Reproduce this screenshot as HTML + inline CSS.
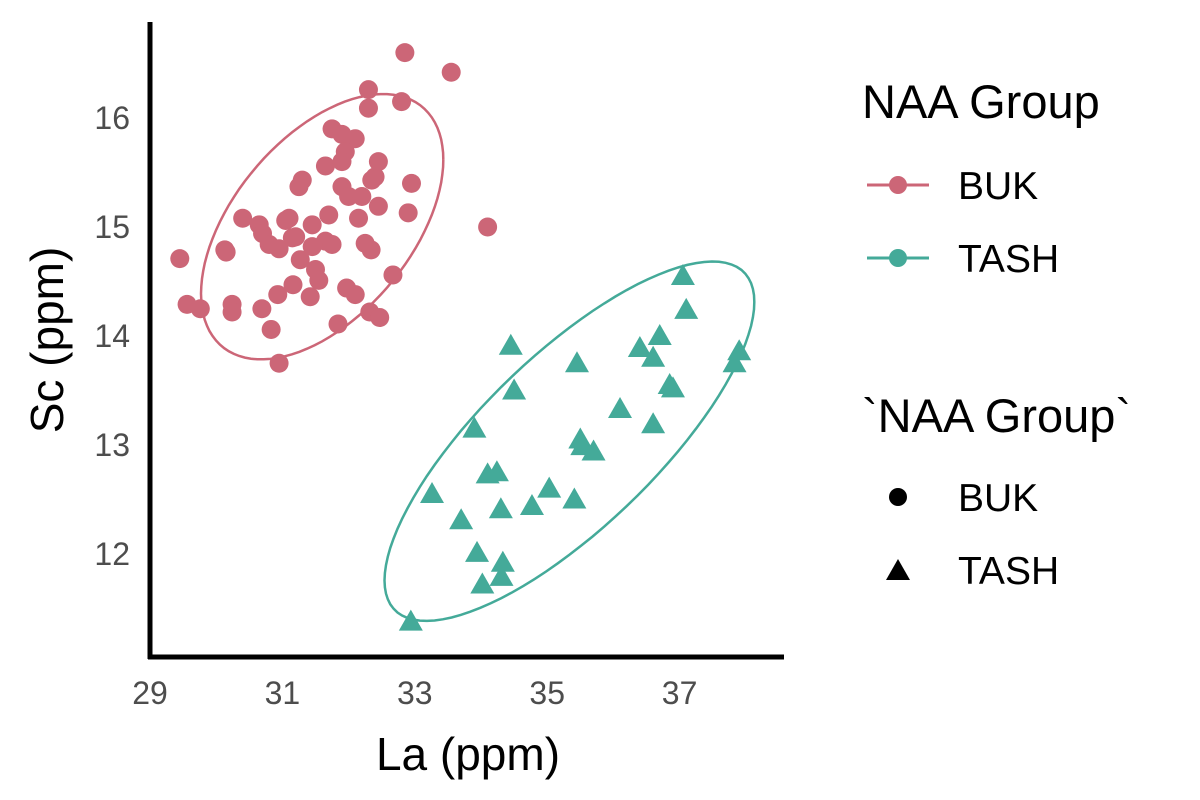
<!DOCTYPE html>
<html><head><meta charset="utf-8"><style>
html,body{margin:0;padding:0;background:#fff;}
svg{display:block;font-family:"Liberation Sans",Arial,sans-serif;}
</style></head><body>
<svg id="chart" width="1200" height="800" viewBox="0 0 1200 800">
<g id="marks"></g>
<line x1="150" y1="22" x2="150" y2="659" stroke="#000" stroke-width="5"/>
<line x1="148" y1="657" x2="784" y2="657" stroke="#000" stroke-width="5"/>
<g id="xticks"></g>
<g id="yticks"></g>
<text x="468" y="770" font-size="46" text-anchor="middle" fill="#000">La (ppm)</text>
<text transform="translate(63,340) rotate(-90)" font-size="46" text-anchor="middle" fill="#000">Sc (ppm)</text>
<g>
<text x="862" y="118" font-size="47" fill="#000">NAA Group</text>
<g>
<line x1="867" y1="185" x2="929" y2="185" stroke="#CC6677" stroke-width="3"/>
<circle cx="898" cy="185" r="9" fill="#CC6677"/>
<text x="958" y="199" font-size="39" fill="#000">BUK</text></g>
<g>
<line x1="867" y1="258" x2="929" y2="258" stroke="#44AA99" stroke-width="3"/>
<circle cx="898" cy="258" r="9" fill="#44AA99"/>
<text x="958" y="272" font-size="39" fill="#000">TASH</text></g>
</g>
<g>
<text x="862" y="432" font-size="47" fill="#000">`NAA Group`</text>
<g>
<circle cx="898" cy="497" r="9" fill="#000"/>
<text x="958" y="511" font-size="39" fill="#000">BUK</text></g>
<g>
<polygon points="898,559 910,580 886,580" fill="#000"/>
<text x="958" y="584" font-size="39" fill="#000">TASH</text></g>
</g>
</svg>
<script>
const xTicks=[29,31,33,35,37];
const yTicks=[12,13,14,15,16];
const bukLa=[32.85,33.55,32.3,32.8,32.3,31.75,31.9,32.1,31.65,31.95,31.9,32.45,32.4,32.35,31.3,31.25,31.9,32.95,32.0,32.2,32.45,32.9,30.4,30.65,31.05,31.1,31.45,31.7,32.15,34.1,30.7,31.2,31.65,32.25,30.8,30.95,31.45,31.75,32.34,29.45,30.15,31.5,31.55,32.67,31.16,30.93,31.97,32.1,29.56,29.76,30.24,30.24,30.69,31.42,32.32,32.47,31.84,30.83,30.95,31.27,30.13,31.15];
const bukSc=[16.6,16.42,16.26,16.15,16.09,15.9,15.85,15.81,15.56,15.69,15.6,15.6,15.46,15.43,15.43,15.37,15.37,15.4,15.28,15.28,15.19,15.13,15.08,15.02,15.06,15.08,15.02,15.11,15.08,15.0,14.94,14.91,14.87,14.85,14.84,14.8,14.82,14.84,14.79,14.71,14.77,14.61,14.51,14.56,14.47,14.38,14.44,14.38,14.29,14.25,14.29,14.22,14.25,14.36,14.22,14.17,14.11,14.06,13.75,14.7,14.79,14.9];
const tashLa=[37.05,37.1,34.45,35.45,36.4,36.7,36.6,37.9,37.83,36.85,36.9,34.5,36.1,36.6,33.9,35.5,35.53,35.7,34.1,34.24,35.03,33.26,35.41,34.3,34.77,33.7,33.94,34.33,34.31,34.02,32.94];
const tashSc=[14.55,14.24,13.91,13.75,13.89,14.0,13.8,13.86,13.75,13.55,13.52,13.5,13.33,13.19,13.15,13.05,12.99,12.94,12.73,12.75,12.6,12.55,12.5,12.41,12.44,12.31,12.01,11.92,11.79,11.72,11.38];
const X=v=>150+(v-29)*66.2, Y=v=>118+(16-v)*109;
const NS='http://www.w3.org/2000/svg';
const mk=(t,a,p)=>{const e=document.createElementNS(NS,t);for(const k in a)e.setAttribute(k,a[k]);p.appendChild(e);return e;};
const xg=document.getElementById('xticks'),yg=document.getElementById('yticks'),g=document.getElementById('marks');
xTicks.forEach(v=>{const t=mk('text',{x:X(v),y:704,'font-size':32,'text-anchor':'middle',fill:'#4d4d4d'},xg);t.textContent=v;

});
yTicks.forEach(v=>{const t=mk('text',{x:130,y:Y(v)+11,'font-size':32,'text-anchor':'end',fill:'#4d4d4d'},yg);t.textContent=v;

});
function ellipse(xs,ys,col,name,r){
 const n=xs.length,mx=xs.reduce((a,b)=>a+b)/n,my=ys.reduce((a,b)=>a+b)/n;
 let sxx=0,syy=0,sxy=0;for(let i=0;i<n;i++){const dx=xs[i]-mx,dy=ys[i]-my;sxx+=dx*dx;syy+=dy*dy;sxy+=dx*dy;}
 sxx/=n-1;syy/=n-1;sxy/=n-1;
 const a=Math.sqrt(sxx),c=sxy/a,d=Math.sqrt(Math.max(syy-c*c,0));
 let pts=[];for(let k=0;k<=100;k++){const t=k/100*2*Math.PI,u=Math.cos(t),w=Math.sin(t);
 pts.push(X(mx+r*a*u).toFixed(1)+','+Y(my+r*(c*u+d*w)).toFixed(1));}
 const e=mk('polyline',{points:pts.join(' '),fill:'none',stroke:col,'stroke-width':2.5},g);
 
 
}
ellipse(bukLa,bukSc,'#CC6677','buk-ellipse',1.95);
ellipse(tashLa,tashSc,'#44AA99','tash-ellipse',2.03);
bukLa.forEach((v,i)=>{const c=mk('circle',{cx:X(v),cy:Y(bukSc[i]),r:9.5,fill:'#CC6677'},g);

});
tashLa.forEach((v,i)=>{const x=X(v),y=Y(tashSc[i]);
const p=mk('polygon',{points:`${x},${y-12} ${x+12},${y+9} ${x-12},${y+9}`,fill:'#44AA99'},g);

});
</script>
</body></html>
